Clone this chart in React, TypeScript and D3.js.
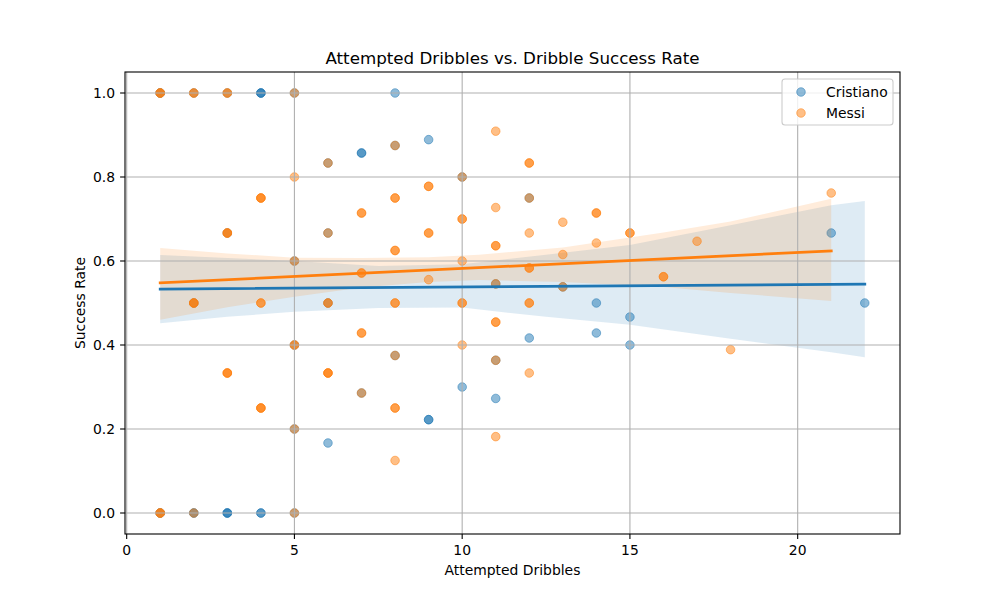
import * as d3 from "d3";

// per-match dribble numbers, one entry per match (duplicates stack up)
const cristianoAttempts = [
  1, 1, 1, 1,
  2, 2, 2, 2,
  3, 3, 3, 3, 3,
  4, 4, 4, 4, 4,
  5, 5, 5, 5, 5,
  6, 6, 6, 6,
  7, 7, 7,
  8, 8, 8,
  9, 9, 9,
  10, 10,
  11, 11, 11,
  12, 12,
  13,
  14, 14,
  15, 15,
  21,
  22,
];
const cristianoSuccesses = [
  1, 1, 0, 0,
  2, 1, 0, 0,
  3, 2, 0, 0, 0,
  4, 4, 4, 0, 0,
  5, 3, 2, 1, 0,
  5, 4, 3, 1,
  6, 6, 2,
  8, 7, 3,
  8, 2, 2,
  8, 3,
  6, 4, 3,
  9, 5,
  7,
  7, 6,
  7, 6,
  14,
  11,
];

const messiAttempts = [
  1, 1, 1, 1, 1, 1,
  2, 2, 2, 2, 2, 2,
  3, 3, 3, 3, 3, 3, 3, 3,
  4, 4, 4, 4, 4, 4, 4, 4,
  5, 5, 5, 5, 5, 5, 5,
  6, 6, 6, 6, 6, 6, 6,
  7, 7, 7, 7, 7, 7, 7,
  8, 8, 8, 8, 8, 8, 8, 8, 8, 8, 8,
  9, 9, 9, 9, 9,
  10, 10, 10, 10, 10, 10, 10,
  11, 11, 11, 11, 11, 11, 11, 11, 11,
  12, 12, 12, 12, 12, 12, 12, 12, 12,
  13, 13, 13,
  14, 14, 14,
  15, 15,
  16, 16,
  17,
  18,
  21,
];
const messiSuccesses = [
  1, 1, 1, 0, 0, 0,
  2, 2, 1, 1, 1, 0,
  3, 3, 2, 2, 2, 1, 1, 1,
  3, 3, 3, 2, 2, 1, 1, 1,
  5, 4, 3, 2, 2, 1, 0,
  5, 4, 3, 3, 2, 2, 2,
  5, 5, 4, 4, 3, 3, 2,
  7, 6, 6, 5, 5, 4, 4, 3, 2, 2, 1,
  7, 7, 6, 6, 5,
  8, 7, 7, 6, 5, 5, 4,
  10, 8, 7, 7, 6, 5, 5, 4, 2,
  10, 10, 9, 8, 7, 7, 6, 6, 4,
  9, 8, 7,
  10, 10, 9,
  10, 10,
  9, 9,
  11,
  7,
  16,
];

// fitted regression lines [x, y] at each end of the data range
const cristianoFit = [[1, 0.533], [22, 0.545]];
const messiFit = [[1, 0.548], [21, 0.624]];

// 95% confidence bands around each fit
const cristianoBandX = [1, 3, 5, 7.5, 10, 12.5, 15, 18, 21, 22];
const cristianoBandLow = [0.452, 0.467, 0.479, 0.488, 0.489, 0.467, 0.448, 0.415, 0.383, 0.371];
const cristianoBandHigh = [0.614, 0.607, 0.6, 0.588, 0.592, 0.615, 0.638, 0.685, 0.733, 0.743];

const messiBandX = [1, 3, 5, 7, 9, 10.5, 13, 16, 18, 21];
const messiBandLow = [0.46, 0.49, 0.515, 0.537, 0.55, 0.555, 0.55, 0.538, 0.524, 0.505];
const messiBandHigh = [0.631, 0.618, 0.608, 0.607, 0.609, 0.615, 0.632, 0.668, 0.694, 0.748];

const xTicks = [0, 5, 10, 15, 20];
const yTicks = [0, 0.2, 0.4, 0.6, 0.8, 1.0];

const BLUE = "#1f77b4";
const ORANGE = "#ff7f0e";
const FONT = "DejaVu Sans, sans-serif";

const W = 1000;
const H = 600;
const left = 125, right = 900, top = 72, bottom = 534;

export default function App() {
  const x = d3.scaleLinear().domain([-0.05, 23.05]).range([left, right]);
  const y = d3.scaleLinear().domain([-0.05, 1.05]).range([bottom, top]);

  const series = [
    {
      name: "Cristiano", color: BLUE,
      pts: cristianoAttempts.map((a, i) => [a, cristianoSuccesses[i] / a]),
      fit: cristianoFit,
      band: cristianoBandX.map((bx, i) => [bx, cristianoBandLow[i], cristianoBandHigh[i]]),
    },
    {
      name: "Messi", color: ORANGE,
      pts: messiAttempts.map((a, i) => [a, messiSuccesses[i] / a]),
      fit: messiFit,
      band: messiBandX.map((bx, i) => [bx, messiBandLow[i], messiBandHigh[i]]),
    },
  ];

  const area = d3.area<number[]>().x(d => x(d[0])).y0(d => y(d[1])).y1(d => y(d[2]));
  const line = d3.line<number[]>().x(d => x(d[0])).y(d => y(d[1]));

  return (
    <svg width={W} height={H} style={{ position: "absolute", left: 0, top: 0, background: "#fff" }}
      fontFamily={FONT}>
      <rect width={W} height={H} fill="#fff" />
      <defs>
        <clipPath id="plot-clip">
          <rect x={left} y={top} width={right - left} height={bottom - top} />
        </clipPath>
      </defs>

      {/* scatter + band for each player */}
      <g clipPath="url(#plot-clip)">
        {series.map(s => (
          <g key={s.name}>
            {s.pts.map((p, i) => (
              <circle key={i} cx={x(p[0])} cy={y(p[1])} r={4.3}
                fill={s.color} fillOpacity={0.5}
                stroke={s.color} strokeOpacity={0.5} strokeWidth={1} />
            ))}
            <path d={area(s.band) ?? ""} fill={s.color} fillOpacity={0.15} />
          </g>
        ))}
      </g>

      {/* grid */}
      <g stroke="#b0b0b0" strokeWidth={1.1}>
        {xTicks.map(t => <line key={"gx" + t} x1={x(t)} x2={x(t)} y1={top} y2={bottom} />)}
        {yTicks.map(t => <line key={"gy" + t} x1={left} x2={right} y1={y(t)} y2={y(t)} />)}
      </g>

      {/* regression lines */}
      {series.map(s => (
        <path key={s.name + "-fit"} d={line(s.fit) ?? ""} fill="none"
          stroke={s.color} strokeWidth={2.8} strokeLinecap="square" />
      ))}

      {/* frame */}
      <rect x={left} y={top} width={right - left} height={bottom - top}
        fill="none" stroke="#000" strokeWidth={1.1} />

      {/* x axis */}
      <g fontSize={13.9} fill="#000" textAnchor="middle">
        {xTicks.map(t => (
          <g key={"xt" + t}>
            <line x1={x(t)} x2={x(t)} y1={bottom} y2={bottom + 4.9} stroke="#000" strokeWidth={1.1} />
            <text x={x(t)} y={bottom + 21}>{d3.format("d")(t)}</text>
          </g>
        ))}
      </g>
      <text x={(left + right) / 2} y={575} fontSize={13.9} textAnchor="middle">Attempted Dribbles</text>

      {/* y axis */}
      <g fontSize={13.9} fill="#000" textAnchor="end">
        {yTicks.map(t => (
          <g key={"yt" + t}>
            <line x1={left - 4.9} x2={left} y1={y(t)} y2={y(t)} stroke="#000" strokeWidth={1.1} />
            <text x={left - 10} y={y(t) + 5}>{d3.format(".1f")(t)}</text>
          </g>
        ))}
      </g>
      <text transform={`translate(85,${(top + bottom) / 2}) rotate(-90)`} fontSize={13.9}
        textAnchor="middle">Success Rate</text>

      <text x={(left + right) / 2} y={64} fontSize={16.7} textAnchor="middle">
        Attempted Dribbles vs. Dribble Success Rate
      </text>

      {/* legend */}
      <g>
        <rect x={782} y={79} width={111} height={46} rx={3} fill="#fff" fillOpacity={0.8}
          stroke="#cccccc" strokeWidth={1.1} />
        {series.map((s, i) => (
          <g key={s.name + "-leg"}>
            <circle cx={801} cy={92 + i * 21} r={4.3} fill={s.color} fillOpacity={0.5}
              stroke={s.color} strokeOpacity={0.5} strokeWidth={1} />
            <text x={826} y={97 + i * 21} fontSize={13.9}>{s.name}</text>
          </g>
        ))}
      </g>
    </svg>
  );
}
